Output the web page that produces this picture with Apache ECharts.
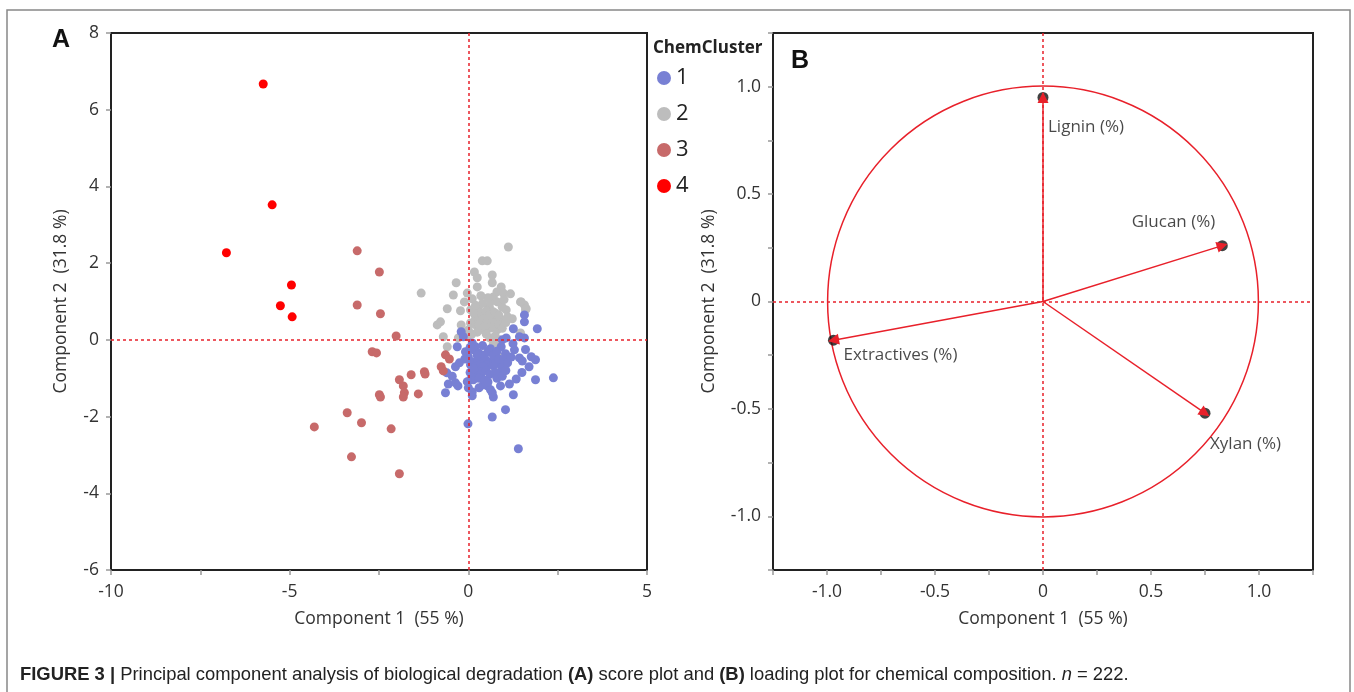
<!DOCTYPE html>
<html>
<head>
<meta charset="utf-8">
<script src="https://cdn.jsdelivr.net/npm/echarts@6/dist/echarts.min.js"></script>
<style>
  html, body { margin: 0; padding: 0; background: #fff; }
  #chart { width: 1354px; height: 692px; }
</style>
</head>
<body>
<div id="chart"></div>
<script>
// PCA scores (Component 1, Component 2) by chemical cluster
const cluster1 = [
  [1.57,0.65],[1.57,0.47],[1.93,0.29],[1.26,0.29],[1.06,0.05],[1.43,0.08],[1.57,0.05],[-0.20,0.21],
  [-0.14,0.08],[-0.31,-0.18],[0.11,-0.08],[0.20,-0.18],[0.14,-0.26],[0.62,-0.23],[0.92,-0.18],[1.04,-0.36],
  [1.29,-0.26],[1.43,-0.47],[1.51,-0.55],[1.76,-0.44],[1.88,-0.52],[-0.08,-0.31],[0.00,-0.44],[0.11,-0.57],
  [0.28,-0.55],[0.48,-0.52],[0.62,-0.57],[0.76,-0.60],[0.90,-0.65],[0.95,-0.70],[-0.36,-0.70],[0.06,-0.65],
  [0.20,-0.70],[0.34,-0.65],[0.53,-0.65],[0.70,-0.68],[0.42,-0.70],[-0.60,-0.86],[0.14,-0.86],[0.25,-0.81],
  [0.20,-0.96],[0.06,-1.04],[0.14,-1.04],[-0.03,-1.09],[0.84,-0.86],[1.34,-1.02],[1.88,-1.04],[2.38,-0.99],
  [-0.56,-1.15],[-0.36,-1.12],[-0.29,-1.20],[0.42,-1.17],[0.53,-1.20],[0.62,-1.30],[0.67,-1.38],[0.70,-1.49],
  [-0.64,-1.38],[0.11,-1.36],[0.11,-1.46],[1.26,-1.43],[1.04,-1.82],[0.67,-2.01],[-0.01,-2.19],[1.40,-2.84],
  [0.30,-0.35],[0.45,-0.40],[0.55,-0.30],[0.70,-0.40],[0.80,-0.30],[0.85,-0.50],[0.25,-0.40],[0.35,-0.90],
  [0.50,-0.80],[0.60,-0.90],[0.75,-0.85],[0.05,-0.85],[0.15,-0.75],[0.30,-1.00],[0.45,-1.05],[0.80,-1.00],
  [0.95,-0.95],[1.00,-0.50],[1.10,-0.60],[1.20,-0.45],[1.25,-0.10],[0.95,0.00],[0.40,-0.15],[0.05,-0.20],
  [-0.10,-0.50],[-0.25,-0.60],[0.55,-1.10],[0.30,-1.25],[1.60,-0.25],[1.70,-0.70],[1.50,-0.85],[1.15,-1.15],
  [0.90,-1.20],[1.05,-0.80],[-0.45,-0.95],[0.00,-1.25]
];
const cluster2 = [
  [1.12,2.42],[0.39,2.06],[0.53,2.06],[0.17,1.77],[0.67,1.69],[0.25,1.62],[-0.34,1.49],[0.67,1.49],
  [0.25,1.38],[0.92,1.38],[-0.03,1.22],[-0.42,1.17],[0.98,1.22],[1.18,1.20],[0.70,1.12],[0.11,1.07],
  [-0.11,0.99],[0.62,0.99],[0.81,0.99],[1.48,0.99],[1.57,0.91],[-0.59,0.81],[-0.22,0.76],[0.06,0.78],
  [0.28,0.83],[0.59,0.86],[0.70,0.73],[1.06,0.78],[1.60,0.78],[0.31,0.60],[0.45,0.60],[0.20,0.55],
  [0.67,0.60],[0.81,0.52],[0.95,0.52],[-0.78,0.47],[-0.20,0.39],[0.06,0.44],[0.20,0.39],[0.39,0.44],
  [0.56,0.44],[0.76,0.39],[1.23,0.55],[-0.87,0.39],[0.42,0.26],[0.62,0.31],[0.81,0.26],[0.00,0.26],
  [-1.32,1.22],[-0.70,0.08],[-0.59,-0.18],[-0.28,0.05],[-0.03,0.08],[0.81,-0.39],[0.90,-0.18],[1.46,0.18],
  [1.62,0.81],[1.46,0.99],
  [0.35,0.70],[0.50,0.75],[0.60,0.65],[0.75,0.70],[0.85,0.65],[0.40,0.55],[0.55,0.50],[0.65,0.45],
  [0.30,0.40],[0.45,0.35],[0.70,0.35],[0.85,0.40],[0.95,0.30],[1.05,0.45],[1.10,0.60],[0.25,0.20],
  [0.50,0.15],[0.60,0.05],[0.75,0.10],[0.85,0.00],[0.70,-0.10],[0.80,-0.25],[0.95,0.85],[0.40,0.95],
  [0.20,0.90],[0.15,0.70],[0.55,1.10],[0.80,1.25],[0.35,1.15],[1.00,1.05],[0.10,0.15]
];
const cluster3 = [
  [-3.11,2.32],[-2.49,1.77],[-3.11,0.91],[-2.46,0.68],[-2.02,0.10],[-2.69,-0.31],[-2.57,-0.34],[-0.64,-0.39],
  [-0.53,-0.50],[-0.76,-0.70],[-0.70,-0.81],[-1.60,-0.91],[-1.23,-0.83],[-1.21,-0.89],[-1.93,-1.04],[-1.82,-1.20],
  [-2.49,-1.43],[-2.46,-1.49],[-1.79,-1.38],[-1.82,-1.49],[-1.40,-1.41],[-3.39,-1.90],[-2.99,-2.16],[-2.16,-2.32],
  [-4.31,-2.27],[-3.27,-3.05],[-1.93,-3.49]
];
const cluster4 = [
  [-5.74,6.67],[-5.49,3.52],[-6.77,2.27],[-4.95,1.43],[-5.26,0.89],[-4.93,0.60]
];
const clusterNames = ['1', '2', '3', '4'];
const clusterColors = ['#7880d4', '#bdbdbd', '#c76a6a', '#ff0000'];

// PCA loadings for the chemical composition variables
const loadingNames = ['Lignin (%)', 'Glucan (%)', 'Extractives (%)', 'Xylan (%)'];
const loadingX = [0.00, 0.83, -0.97, 0.75];
const loadingY = [0.95, 0.26, -0.18, -0.52];

// Tick settings
const scoreXTicks = { min: -10, max: 5, interval: 2.5 };
const scoreYTicks = { min: -6, max: 8, interval: 2 };
const loadTicks = { min: -1.25, max: 1.25, interval: 0.25 };

const RED = '#e8202a';
const FONT = '"Open Sans", "Noto Sans", sans-serif';
const CAP_FONT = '"Liberation Sans", Arial, sans-serif';
const TICK_SIZE = 17.5;

const chart = echarts.init(document.getElementById('chart'), null, { renderer: 'canvas' });

function axisBase(extra) {
  return Object.assign({
    type: 'value',
    axisLine: { show: true, onZero: false, lineStyle: { color: '#222', width: 2 } },
    axisTick: { show: true, inside: false, length: 5, lineStyle: { color: '#999', width: 1.5 } },
    splitLine: { show: false },
    axisLabel: { color: '#333', fontSize: TICK_SIZE, fontFamily: FONT, margin: 12 },
    nameLocation: 'middle',
    nameTextStyle: { color: '#333', fontSize: TICK_SIZE, fontFamily: FONT }
  }, extra);
}

// labels shown only at multiples of 0.5 within [-1, 1]
function loadingLabel(v) {
  const h = Math.round(v * 2);
  if (Math.abs(v * 2 - h) > 1e-6 || Math.abs(v) > 1.01) return '';
  return h === 0 ? '0' : v.toFixed(1);
}

const refLines = {
  silent: true,
  symbol: 'none',
  label: { show: false },
  lineStyle: { color: RED, type: [3, 3], width: 1.5 },
  data: [{ xAxis: 0 }, { yAxis: 0 }]
};

const loadingPoints = loadingNames.map((n, i) => [loadingX[i], loadingY[i], n]);
const labelPlacement = [
  { align: 'left', offset: [5, 30] },
  { align: 'right', offset: [-7, -23] },
  { align: 'left', offset: [10, 15] },
  { align: 'left', offset: [5, 31] }
];

const scoreSeries = [cluster2, cluster1, cluster3, cluster4].map((d, k) => {
  const idx = [1, 0, 2, 3][k];
  return {
    name: clusterNames[idx],
    type: 'scatter',
    xAxisIndex: 0, yAxisIndex: 0,
    symbolSize: 9,
    itemStyle: { color: clusterColors[idx], opacity: 1 },
    data: d,
    z: 3 + k,
    markLine: k === 0 ? refLines : undefined
  };
});

const option = {
  animation: false,
  backgroundColor: '#fff',
  grid: [
    { left: 111, top: 33, width: 536, height: 537, show: true, borderColor: '#222', borderWidth: 2, backgroundColor: 'transparent' },
    { left: 773, top: 33, width: 540, height: 537, show: true, borderColor: '#222', borderWidth: 2, backgroundColor: 'transparent' }
  ],
  xAxis: [
    axisBase({
      gridIndex: 0, min: scoreXTicks.min, max: scoreXTicks.max, interval: scoreXTicks.interval,
      name: 'Component 1  (55 %)', nameGap: 40,
      axisLabel: { color: '#333', fontSize: TICK_SIZE, fontFamily: FONT, margin: 13,
        formatter: v => (v % 5 === 0 ? String(v) : '') }
    }),
    axisBase({
      gridIndex: 1, min: loadTicks.min, max: loadTicks.max, interval: loadTicks.interval,
      name: 'Component 1  (55 %)', nameGap: 40,
      axisLabel: { color: '#333', fontSize: TICK_SIZE, fontFamily: FONT, margin: 13, formatter: loadingLabel }
    })
  ],
  yAxis: [
    axisBase({
      gridIndex: 0, min: scoreYTicks.min, max: scoreYTicks.max, interval: scoreYTicks.interval,
      name: 'Component 2  (31.8 %)', nameGap: 41
    }),
    axisBase({
      gridIndex: 1, min: loadTicks.min, max: loadTicks.max, interval: loadTicks.interval,
      name: 'Component 2  (31.8 %)', nameGap: 55,
      axisLabel: { color: '#333', fontSize: TICK_SIZE, fontFamily: FONT, margin: 12, formatter: loadingLabel }
    })
  ],
  legend: {
    data: clusterNames,
    orient: 'vertical',
    left: 652, top: 61,
    itemWidth: 14, itemHeight: 14, itemGap: 12,
    icon: 'circle',
    selectedMode: false,
    textStyle: { color: '#222', fontSize: 22, fontFamily: FONT, lineHeight: 24 }
  },
  series: scoreSeries.concat([
    {
      // unit correlation circle
      type: 'custom',
      xAxisIndex: 1, yAxisIndex: 1,
      silent: true,
      data: [[0, 0, 1]],
      renderItem: (params, api) => {
        const c = api.coord([api.value(0), api.value(1)]);
        const s = api.size([api.value(2), api.value(2)]);
        return {
          type: 'circle',
          shape: { cx: c[0], cy: c[1], r: (s[0] + s[1]) / 2 },
          style: { fill: 'none', stroke: RED, lineWidth: 1.5 }
        };
      },
      z: 2
    },
    {
      type: 'scatter',
      xAxisIndex: 1, yAxisIndex: 1,
      symbolSize: 11,
      itemStyle: { color: '#111' },
      data: loadingPoints.map((p, i) => ({
        value: p,
        label: {
          show: true, position: 'inside', formatter: p[2],
          align: labelPlacement[i].align, verticalAlign: 'middle',
          offset: labelPlacement[i].offset,
          color: '#1a1a1a', fontSize: 17, fontFamily: FONT
        }
      })),
      markLine: refLines,
      z: 3
    },
    {
      type: 'lines',
      coordinateSystem: 'cartesian2d',
      xAxisIndex: 1, yAxisIndex: 1,
      symbol: ['none', 'triangle'],
      symbolSize: 11,
      lineStyle: { color: RED, width: 1.5, opacity: 1 },
      data: loadingNames.map((n, i) => ({ coords: [[0, 0], [loadingX[i], loadingY[i]]] })),
      z: 4
    }
  ]),
  graphic: [
    { type: 'rect', shape: { x: 7, y: 10, width: 1343, height: 700 }, style: { fill: 'none', stroke: '#888', lineWidth: 1.5 }, silent: true, z: -1 },
    { type: 'text', x: 52, y: 28, style: { text: 'A', font: 'bold 25px ' + CAP_FONT, fill: '#111' } },
    { type: 'text', x: 791, y: 49, style: { text: 'B', font: 'bold 25px ' + CAP_FONT, fill: '#111' } },
    { type: 'text', x: 653, y: 40, style: { text: 'ChemCluster', font: 'bold 17px ' + FONT, fill: '#222' } },
    {
      type: 'text', x: 20, y: 666,
      style: {
        text: '{b|FIGURE 3 |} Principal component analysis of biological degradation {b|(A)} score plot and {b|(B)} loading plot for chemical composition. {i|n} = 222.',
        font: '18.4px ' + CAP_FONT,
        fill: '#222',
        rich: {
          b: { fontWeight: 'bold', fontSize: 18.4, fontFamily: CAP_FONT, fill: '#222' },
          i: { fontStyle: 'italic', fontSize: 18.4, fontFamily: CAP_FONT, fill: '#222' }
        }
      }
    }
  ]
};

chart.setOption(option);
</script>
</body>
</html>
